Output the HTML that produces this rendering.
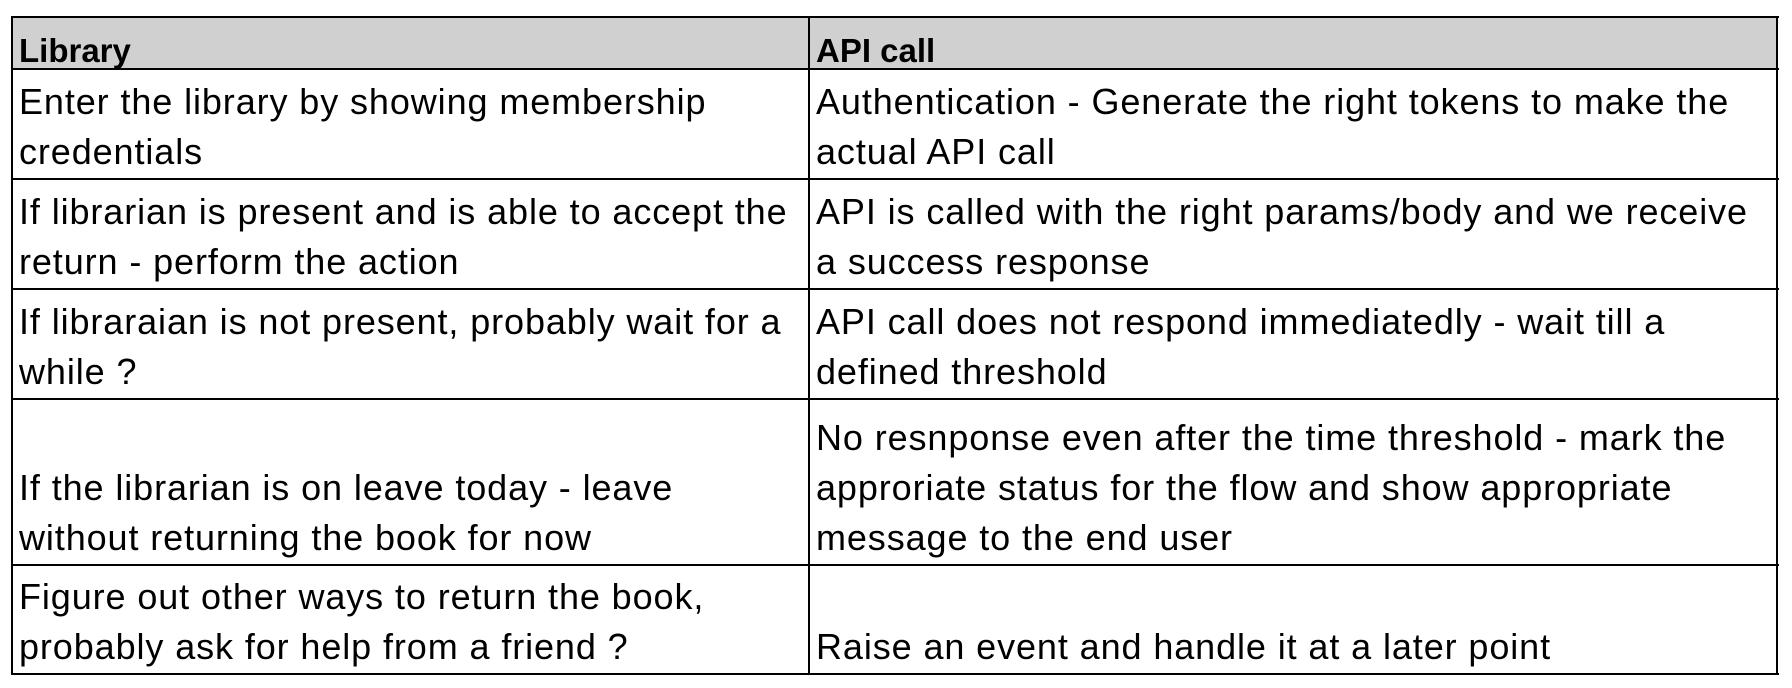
<!DOCTYPE html>
<html><head><style>
body{margin:0;width:1792px;height:688px;background:#fff;position:relative;overflow:hidden;font-family:"Liberation Sans",Arial,sans-serif;color:#000}
.h{position:absolute;background:#000;height:2px}
.v{position:absolute;background:#000;width:2px}
.c{position:absolute;font-size:36px;line-height:50px;display:flex;flex-direction:column;justify-content:flex-end;white-space:nowrap;letter-spacing:0.9px;padding-bottom:1px}
.hd{position:absolute;font-size:33px;font-weight:bold;line-height:37px}
</style></head><body>
<div style="position:absolute;left:11px;top:16px;width:1766px;height:53px;background:#d0d0d0"></div>
<div class="h" style="left:11px;top:16px;width:1768px"></div>
<div class="h" style="left:11px;top:68px;width:1768px"></div>
<div class="h" style="left:11px;top:178px;width:1768px"></div>
<div class="h" style="left:11px;top:288px;width:1768px"></div>
<div class="h" style="left:11px;top:398px;width:1768px"></div>
<div class="h" style="left:11px;top:564px;width:1768px"></div>
<div class="h" style="left:11px;top:673px;width:1768px"></div>
<div class="v" style="left:11px;top:16px;height:659px"></div>
<div class="v" style="left:808px;top:16px;height:659px"></div>
<div class="v" style="left:1776px;top:16px;height:659px"></div>

<div class="hd" style="left:19px;top:32px">Library</div>
<div class="hd" style="left:816px;top:32px">API call</div>

<div class="c" style="left:19px;top:70px;height:107px">Enter the library by showing membership<br>credentials</div>
<div class="c" style="left:816px;top:70px;height:107px">Authentication - Generate the right tokens to make the<br>actual API call</div>

<div class="c" style="left:19px;top:180px;height:107px">If librarian is present and is able to accept the<br>return - perform the action</div>
<div class="c" style="left:816px;top:180px;height:107px">API is called with the right params/body and we receive<br>a success response</div>

<div class="c" style="left:19px;top:290px;height:107px">If libraraian is not present, probably wait for a<br>while ?</div>
<div class="c" style="left:816px;top:290px;height:107px">API call does not respond immediatedly - wait till a<br>defined threshold</div>

<div class="c" style="left:19px;top:400px;height:163px">If the librarian is on leave today - leave<br>without returning the book for now</div>
<div class="c" style="left:816px;top:400px;height:163px">No resnponse even after the time threshold - mark the<br>approriate status for the flow and show appropriate<br>message to the end user</div>

<div class="c" style="left:19px;top:510px;height:162px">Figure out other ways to return the book,<br>probably ask for help from a friend ?</div>
<div class="c" style="left:816px;top:566px;height:106px">Raise an event and handle it at a later point</div>
</body></html>
